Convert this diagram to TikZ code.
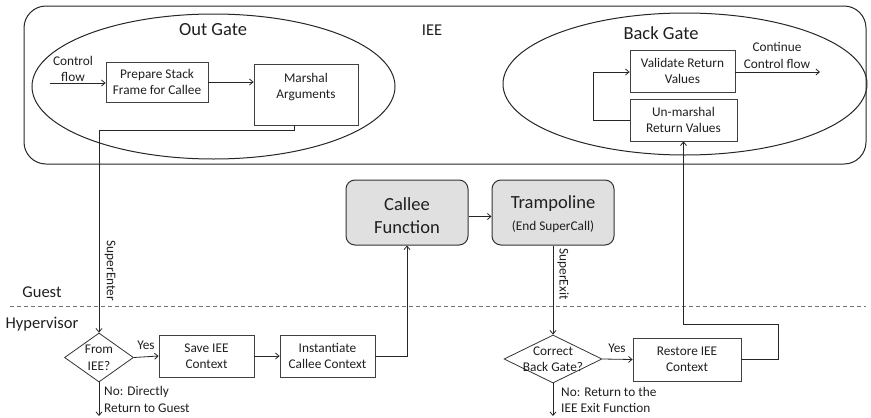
\documentclass[tikz,border=0pt]{standalone}
\usepackage{fontspec}
\setmainfont{Carlito}
\usetikzlibrary{shapes.geometric, arrows.meta}
\begin{document}
\begin{tikzpicture}[x=1pt, y=-1pt,
  every node/.style={font=\fontsize{13.3}{16.5}\selectfont, text=black!88, inner sep=0pt},
  container/.style={draw=black!85, line width=1pt, rounded corners=22pt},
  gate/.style={ellipse, draw=black!85, line width=1pt, inner sep=0pt},
  box/.style={draw=black!75, line width=0.8pt, align=center},
  proc/.style={draw=black!80, fill=black!12, rounded corners=9pt, line width=1pt,
    minimum width=122pt, minimum height=65pt, align=center,
    font=\fontsize{18.5}{23}\selectfont},
  decision/.style={diamond, draw=black!80, line width=0.8pt, inner sep=0pt},
  title/.style={font=\fontsize{18.5}{22}\selectfont},
  lane/.style={font=\fontsize{16.5}{20}\selectfont},
  arr/.style={-{Straight Barb[length=3.5pt,width=6pt]}, line width=0.8pt, draw=black!85},
  lbl/.style={align=center},
]
\useasboundingbox (0,0) rectangle (871,418);

% isolated execution environment and its two gates
\node[container, minimum width=842pt, minimum height=158pt] (iee) at (445,85) {};
\node[lane] (ieetitle) at (432,30) {IEE};
\node[gate, minimum width=363pt, minimum height=145pt] (outgate) at (213.5,86.5) {};
\node[gate, minimum width=364pt, minimum height=142pt] (backgate) at (685,84) {};
\node[title] (outtitle) at (213,30) {Out Gate};
\node[title] (backtitle) at (661,33) {Back Gate};

% out gate steps
\node[box, minimum width=102pt, minimum height=40pt] (prep) at (157,82) {Prepare Stack\\Frame for Callee};
\node[box, minimum width=104pt, minimum height=61pt] (marsh) at (306,94.5) {};
\node[lbl] (marshtxt) at (306,87) {Marshal\\Arguments};
\coordinate (cfin) at (50,83);
\node[lbl] (cflabel) at (73,69) {Control\\flow};

% back gate steps
\node[box, minimum width=105pt, minimum height=42pt] (validate) at (682.5,71) {Validate Return\\Values};
\node[box, minimum width=107pt, minimum height=42pt] (unmarsh) at (683.5,120) {Un-marshal\\Return Values};
\coordinate (cfout) at (820,72);
\node[lbl] (contlabel) at (777,55.5) {Continue\\Control flow};

% guest side functions
\node[proc] (callee) at (407,212.5) {};
\node[lbl, font=\fontsize{18.5}{23}\selectfont] (calleetxt) at (407,216) {Callee\\Function};
\node[proc] (tramp) at (553,212.5) {};
\node[lbl, font=\fontsize{18.5}{23}\selectfont] (tramptxt) at (553,214)
  {Trampoline\\[-1pt]{\fontsize{13.3}{16}\selectfont(End SuperCall)}};

% guest / hypervisor boundary
\coordinate (sepL) at (10,306);
\coordinate (sepR) at (866,306);
\draw[black!55, line width=0.9pt, dash pattern=on 4pt off 3pt] (sepL) -- (sepR);
\node[lane] (guest) at (42,292) {Guest};
\node[lane] (hyper) at (42,324) {Hypervisor};

% hypervisor: entry path
\node[decision, minimum width=69pt, minimum height=49pt] (fromiee) at (99,357.5) {};
\node[lbl] (fromieetxt) at (99,358) {From\\IEE?};
\node[box, minimum width=95pt, minimum height=42pt] (save) at (206.5,356) {Save IEE\\Context};
\node[box, minimum width=95pt, minimum height=42pt] (inst) at (327.5,356) {Instantiate\\Callee Context};
\coordinate (no1) at (99,416);
\node[lbl, align=left, anchor=west] (no1txt) at (104,399.5) {No: Directly\\Return to Guest};

% hypervisor: exit path
\node[decision, minimum width=98pt, minimum height=48pt] (correct) at (553,359) {};
\node[lbl] (correcttxt) at (553,359) {Correct\\Back Gate?};
\node[box, minimum width=108pt, minimum height=43pt] (restore) at (687,359.5) {Restore IEE\\Context};
\coordinate (no2) at (553,416);
\node[lbl, align=left, anchor=west] (no2txt) at (561,400) {No: Return to the\\IEE Exit Function};
\coordinate (bend) at (778,324);

% connectors
\draw[arr] (cfin) -- (cfin -| prep.west);
\draw[arr] (prep.east) -- (prep.east -| marsh.west);
\draw[arr] ([xshift=-12pt]marsh.south) -- ++(0,5) -| (fromiee.north);
\node[rotate=-90] (superentertxt) at (110,271) {SuperEnter};
\draw[arr] (fromiee.east) -- (save.west);
\node (yes1) at (146,345) {Yes};
\draw[arr] (save.east) -- (inst.west);
\draw[arr] (inst.east) -| (callee.south);
\draw[arr] ([yshift=-4pt]callee.east) -- ([yshift=-4pt]tramp.west);
\draw[arr] (tramp.south) -- (correct.north);
\node[rotate=-90] (superexittxt) at (563,274) {SuperExit};
\draw[arr] (correct.east) -- (restore.west);
\node (yes2) at (617,348) {Yes};
\draw[arr] (restore.east) -| (bend) -| (unmarsh.south);
\draw[arr] (unmarsh.west) -- ++(-36,0) |- ([yshift=-1pt]validate.west);
\draw[arr] ([yshift=-1pt]validate.east) -- (cfout);
\draw[arr] (fromiee.south) -- (no1);
\draw[arr] (correct.south) -- (no2);
\end{tikzpicture}
\end{document}
